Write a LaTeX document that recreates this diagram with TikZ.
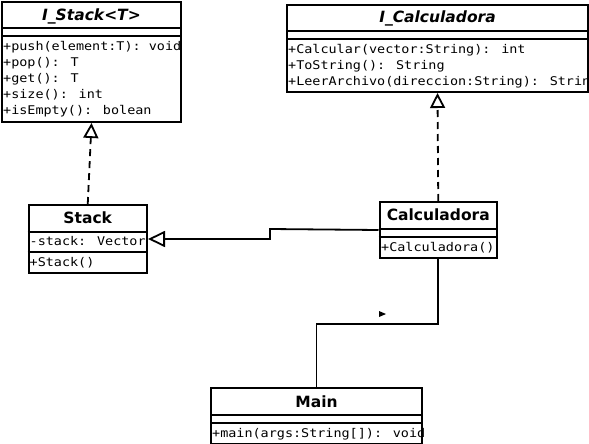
\documentclass[tikz,border=0pt]{standalone}
\usepackage{fontspec}
\setmainfont{DejaVu Sans}
\newfontfamily\memberfamily{DejaVu Sans Mono}[FakeStretch=1.12]
\usetikzlibrary{arrows.meta}

\begin{document}
\begin{tikzpicture}[x=1pt, y=-1pt,
    classbox/.style={draw, line width=2pt, inner sep=0pt, anchor=north west},
    classname/.style={font=\bfseries\fontsize{15.5}{18}\selectfont, anchor=base, inner sep=0pt},
    iname/.style={classname, font=\bfseries\itshape\fontsize{15.5}{18}\selectfont},
    member/.style={font=\memberfamily\fontsize{12}{16}\selectfont, anchor=base west, inner sep=0pt},
    divider/.style={line width=2pt},
    realize/.style={line width=1.8pt, dash pattern=on 7pt off 5pt, -{Triangle[open, length=15pt, width=15pt]}},
    inherit/.style={line width=1.8pt, -{Triangle[open, length=17pt, width=16pt]}},
    assoc/.style={line width=1.8pt}]
  \useasboundingbox (0,0) rectangle (589,444);

  % class boxes
  \node[classbox, minimum width=179pt, minimum height=120pt] (istack) at (1,1) {};
  \node[classbox, minimum width=301pt, minimum height=87pt] (icalc) at (286,4) {};
  \node[classbox, minimum width=118.5pt, minimum height=68pt] (stack) at (27.5,204) {};
  \node[classbox, minimum width=117.5pt, minimum height=56pt] (calc) at (378.5,201) {};
  \node[classbox, minimum width=211pt, minimum height=55.5pt] (main) at (210,387) {};

  % compartments
  \foreach \c in {istack,icalc,calc,main} {
    \draw[divider] ([yshift=-27.5pt]\c.north west) -- ([yshift=-27.5pt]\c.north east);
    \draw[divider] ([yshift=-35.5pt]\c.north west) -- ([yshift=-35.5pt]\c.north east);
  }
  \draw[divider] ([yshift=-27.5pt]stack.north west) -- ([yshift=-27.5pt]stack.north east);
  \draw[divider] ([yshift=-47.7pt]stack.north west) -- ([yshift=-47.7pt]stack.north east);

  % names
  \node[iname] (istack-name) at ([yshift=-20pt]istack.north) {I\_Stack<T>};
  \node[iname] (icalc-name) at ([yshift=-19pt]icalc.north) {I\_Calculadora};
  \node[classname] (stack-name) at ([yshift=-19pt]stack.north) {Stack};
  \node[classname] (calc-name) at ([yshift=-19pt]calc.north) {Calculadora};
  \node[classname] (main-name) at ([yshift=-20pt]main.north) {Main};

  % members
  \begin{scope}
    \clip (istack.north west) rectangle (istack.south east);
    \foreach \txt [count=\i from 0] in {+push(element:T): void, +pop(): T, +get(): T, +size(): int, +isEmpty(): bolean}
      \node[member] (istack-op\i) at ([xshift=2pt, yshift={-(49.5+16*\i)*1pt}]istack.north west) {\txt};
  \end{scope}
  \begin{scope}
    \clip (icalc.north west) rectangle (icalc.south east);
    \foreach \txt [count=\i from 0] in {+Calcular(vector:String): int, +ToString(): String, +LeerArchivo(direccion:String): String}
      \node[member] (icalc-op\i) at ([xshift=2pt, yshift={-(49.5+16*\i)*1pt}]icalc.north west) {\txt};
  \end{scope}
  \node[member] (stack-attr) at ([xshift=2pt, yshift=-41.5pt]stack.north west) {-stack: Vector};
  \node[member] (stack-op) at ([xshift=2pt, yshift=-62pt]stack.north west) {+Stack()};
  \node[member] (calc-op) at ([xshift=2.5pt, yshift=-50pt]calc.north west) {+Calculadora()};
  \begin{scope}
    \clip (main.north west) rectangle (main.south east);
    \node[member] (main-op) at ([xshift=2pt, yshift=-50.5pt]main.north west) {+main(args:String[]): void};
  \end{scope}

  % relations
  \draw[realize] (stack.north) -- (istack.south);
  \draw[realize] (calc.north) -- (icalc.south);
  \draw[inherit] (calc.west) -- (270,229) |- (stack.east);
  \draw[assoc] (main.north) |- ([yshift=-65pt]calc.south) -- (calc.south);
  \fill (379,311) -- (386,314) -- (379,317) -- cycle;
\end{tikzpicture}
\end{document}
